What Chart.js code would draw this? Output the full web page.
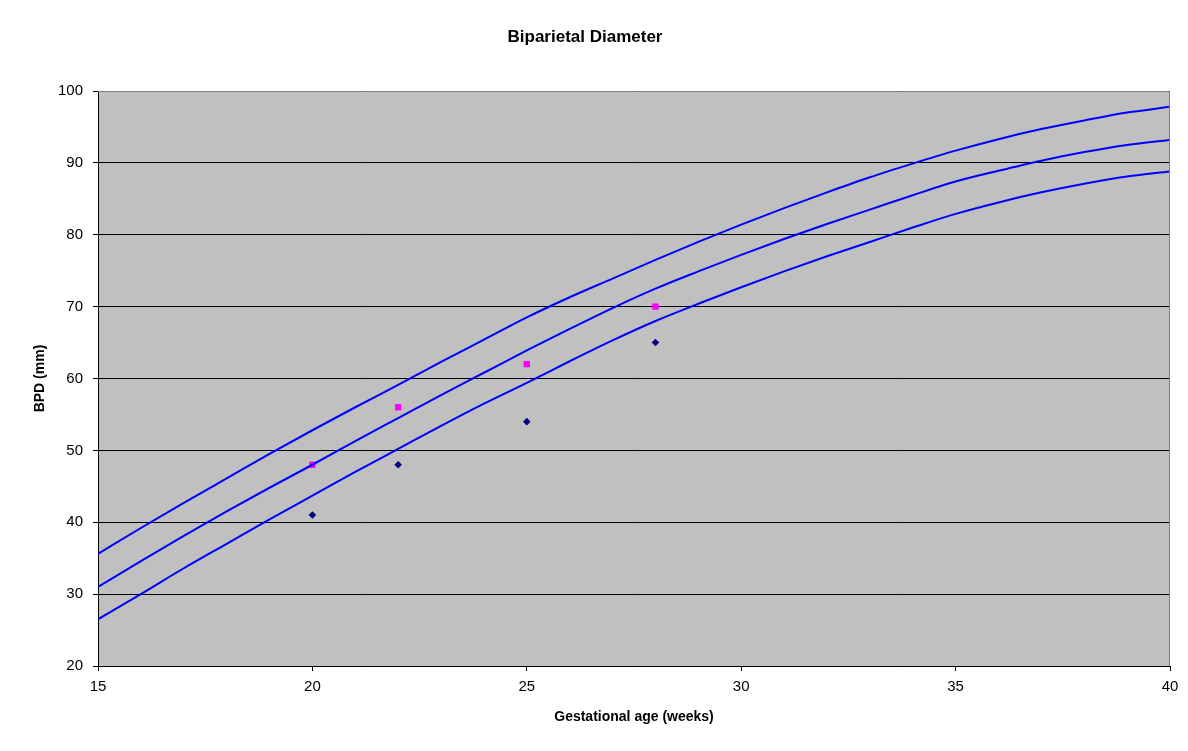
<!DOCTYPE html>
<html>
<head>
<meta charset="utf-8">
<script src="https://cdn.jsdelivr.net/npm/chart.js@4"></script>
<style>
  html, body { margin: 0; padding: 0; background: #fff; }
  #wrap { width: 1188px; height: 751px; }
</style>
</head>
<body>
<div id="wrap"><canvas id="bpdChart" width="1188" height="751"></canvas></div>
<script>
// Gestational age in weeks for the reference curves
const weeks = [15, 16, 17, 18, 19, 20, 21, 22, 23, 24, 25, 26, 27, 28, 29, 30, 31, 32, 33, 34, 35, 36, 37, 38, 39, 40];

// Reference curves (mm)
const upperCurve = [35.6, 39.2, 42.7, 46.1, 49.5, 52.8, 56.0, 59.1, 62.3, 65.4, 68.5, 71.3, 73.9, 76.5, 79.0, 81.4, 83.7, 85.9, 88.0, 89.9, 91.7, 93.3, 94.7, 95.9, 97.0, 97.8];
const middleCurve = [31.0, 34.6, 38.1, 41.5, 44.8, 48.0, 51.3, 54.5, 57.7, 60.8, 63.9, 66.9, 69.8, 72.5, 74.9, 77.2, 79.4, 81.5, 83.5, 85.5, 87.4, 88.9, 90.3, 91.5, 92.5, 93.2];
const lowerCurve = [26.5, 30.0, 33.6, 37.0, 40.4, 43.7, 47.0, 50.2, 53.4, 56.5, 59.4, 62.4, 65.3, 68.0, 70.4, 72.7, 74.9, 77.0, 79.0, 81.0, 82.9, 84.5, 85.9, 87.1, 88.1, 88.8];

// Measured points
const measuredWeeks = [20, 22, 25, 28];
const pinkValues = [48, 56, 62, 70];
const navyValues = [41, 48, 54, 65];

function toPoints(xs, ys) {
    return xs.map((x, i) => ({ x: x, y: ys[i] }));
}

// grey plot area + grey top/right frame
const plotBackground = {
    id: 'plotBackground',
    beforeDraw(chart) {
        const { ctx, chartArea: a } = chart;
        ctx.save();
        ctx.fillStyle = '#C0C0C0';
        ctx.fillRect(a.left, a.top, a.right - a.left, a.bottom - a.top);
        ctx.restore();
    },
    afterDraw(chart) {
        const { ctx, chartArea: a } = chart;
        ctx.save();
        ctx.strokeStyle = '#808080';
        ctx.lineWidth = 1;
        ctx.beginPath();
        ctx.moveTo(a.left, a.top + 0.5);
        ctx.lineTo(a.right - 0.5, a.top + 0.5);
        ctx.lineTo(a.right - 0.5, a.bottom);
        ctx.stroke();
        ctx.restore();
    }
};

const curveStyle = {
    showLine: true,
    borderColor: '#0000FF',
    borderWidth: 2,
    pointRadius: 0,
    pointHoverRadius: 0,
    cubicInterpolationMode: 'monotone',
    fill: false
};

document.addEventListener('DOMContentLoaded', function() {
    const ctx = document.querySelector('#bpdChart').getContext('2d');
    new Chart(ctx, {
        type: 'scatter',
        data: {
            datasets: [
                Object.assign({ label: 'Upper', data: toPoints(weeks, upperCurve) }, curveStyle),
                Object.assign({ label: 'Middle', data: toPoints(weeks, middleCurve) }, curveStyle),
                Object.assign({ label: 'Lower', data: toPoints(weeks, lowerCurve) }, curveStyle),
                {
                    label: 'Measured A',
                    data: toPoints(measuredWeeks, pinkValues),
                    pointStyle: 'rect',
                    pointRadius: 4.5,
                    backgroundColor: '#FF00FF',
                    borderColor: '#FF00FF',
                    borderWidth: 0
                },
                {
                    label: 'Measured B',
                    data: toPoints(measuredWeeks, navyValues),
                    pointStyle: 'rectRot',
                    pointRadius: 3.8,
                    backgroundColor: '#000080',
                    borderColor: '#000080',
                    borderWidth: 0
                }
            ]
        },
        options: {
            responsive: false,
            animation: false,
            layout: { padding: { left: 0, right: 18, top: 0, bottom: 0 } },
            plugins: {
                legend: { display: false },
                tooltip: { enabled: false },
                title: {
                    display: true,
                    text: 'Biparietal Diameter',
                    color: '#000',
                    font: { family: 'Arial, "Liberation Sans", sans-serif', size: 17, weight: 'bold', lineHeight: 1.2 },
                    padding: { top: 27, bottom: 43.6 }
                }
            },
            scales: {
                x: {
                    type: 'linear',
                    min: 15,
                    max: 40,
                    afterFit(scale) { scale.height = 85; },
                    ticks: {
                        stepSize: 5,
                        color: '#000',
                        padding: 7,
                        maxRotation: 0,
                        font: { family: 'Arial, "Liberation Sans", sans-serif', size: 15 }
                    },
                    grid: { drawOnChartArea: false, color: '#000', tickLength: 5 },
                    border: { color: '#000', width: 1 },
                    title: {
                        display: true,
                        text: 'Gestational age (weeks)',
                        color: '#000',
                        font: { family: 'Arial, "Liberation Sans", sans-serif', size: 14, weight: 'bold', lineHeight: 1.2 },
                        padding: { top: 0, bottom: 25 }
                    }
                },
                y: {
                    min: 20,
                    max: 100,
                    afterFit(scale) { scale.width = 98; },
                    ticks: {
                        stepSize: 10,
                        color: '#000',
                        padding: 10,
                        font: { family: 'Arial, "Liberation Sans", sans-serif', size: 15 }
                    },
                    grid: { color: '#000', lineWidth: 1, tickLength: 5 },
                    border: { color: '#000', width: 1 },
                    title: {
                        display: true,
                        text: 'BPD (mm)',
                        color: '#000',
                        font: { family: 'Arial, "Liberation Sans", sans-serif', size: 14, weight: 'bold', lineHeight: 1.2 },
                        padding: { top: 32, bottom: 0 }
                    }
                }
            }
        },
        plugins: [plotBackground]
    });
});
</script>
</body>
</html>
